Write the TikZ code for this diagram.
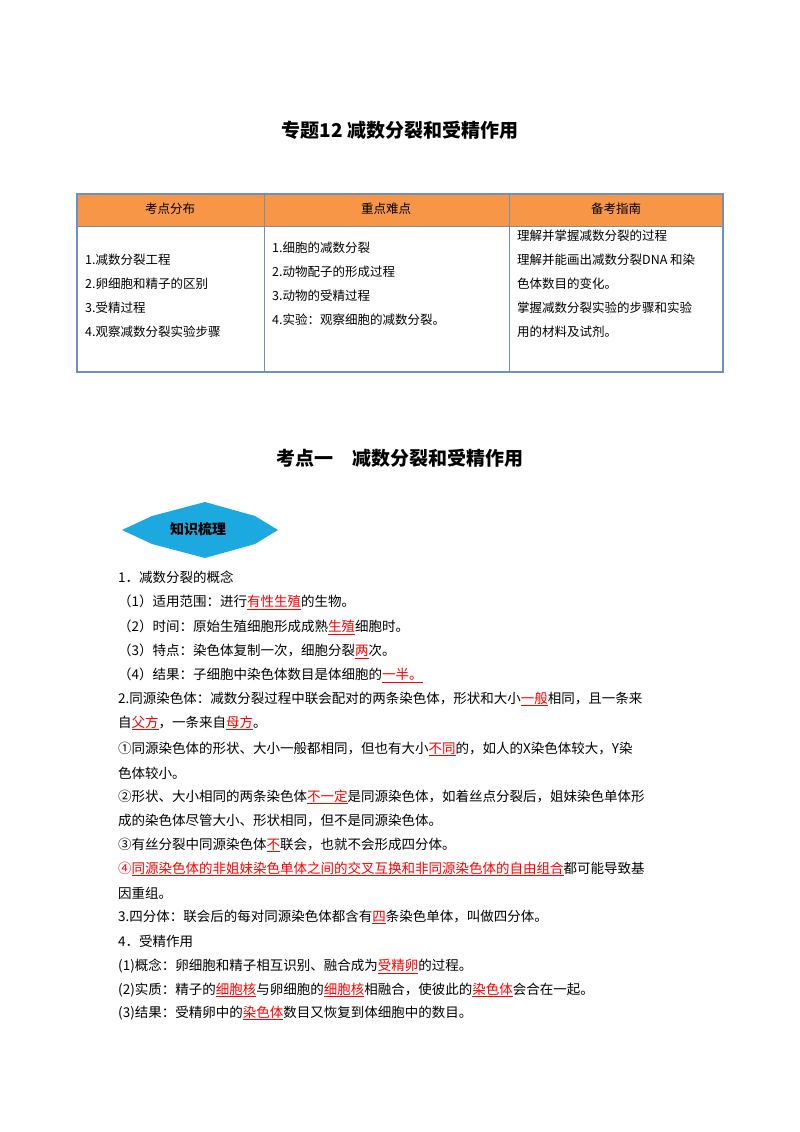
\documentclass[tikz,border=0pt]{standalone}
\usepackage{fontspec}
\setmainfont{Noto Sans CJK SC}
\usepackage{xcolor}
\definecolor{hdr}{HTML}{F79646}
\definecolor{tbl}{HTML}{6F8FC0}
\definecolor{badge}{HTML}{1BA9E0}
\newcommand{\rdu}[1]{\textcolor{red}{\underline{#1}}}
\begin{document}
\begin{tikzpicture}[x=1pt,y=-1pt,
 body/.style={anchor=west,inner sep=0pt,font=\fontsize{13.5}{16}\selectfont},
 cell/.style={anchor=west,inner sep=0pt,font=\fontsize{12.5}{15}\selectfont},
 head/.style={anchor=center,inner sep=0pt,font=\fontsize{12.5}{15}\selectfont},
 ttl/.style={anchor=center,inner sep=0pt,font=\fontsize{19}{22}\selectfont\bfseries}]
\useasboundingbox (0,0) rectangle (800,1132);
\fill[white] (0,0) rectangle (800,1132);
\node[ttl] (t1) at (400,130) {专题12 减数分裂和受精作用};
% table
\fill[hdr] (77,194) rectangle (723,226);
\draw[tbl,line width=1.2pt] (77,194) rectangle (723,372);
\draw[tbl,line width=1pt] (77,226) -- (723,226) (264,194) -- (264,372) (509,194) -- (509,372);
\node[head] (h1) at (170,209) {考点分布};
\node[head] (h2) at (386,209) {重点难点};
\node[head] (h3) at (616,209) {备考指南};
\node[cell] (a1) at (85,260) {1.减数分裂工程};
\node[cell] (a2) at (85,284) {2.卵细胞和精子的区别};
\node[cell] (a3) at (85,308) {3.受精过程};
\node[cell] (a4) at (85,332) {4.观察减数分裂实验步骤};
\node[cell] (b1) at (272,248) {1.细胞的减数分裂};
\node[cell] (b2) at (272,272) {2.动物配子的形成过程};
\node[cell] (b3) at (272,296) {3.动物的受精过程};
\node[cell] (b4) at (272,320) {4.实验：观察细胞的减数分裂。};
\node[cell] (c1) at (517,236) {理解并掌握减数分裂的过程};
\node[cell] (c2) at (517,260) {理解并能画出减数分裂DNA 和染};
\node[cell] (c3) at (517,284) {色体数目的变化。};
\node[cell] (c4) at (517,308) {掌握减数分裂实验的步骤和实验};
\node[cell] (c5) at (517,332) {用的材料及试剂。};
\node[ttl] (t2) at (400,458) {考点一　减数分裂和受精作用};
% badge
\fill[badge] (122,530) -- (152,516) -- (205,502) -- (255,516) -- (278,530) -- (255,544) -- (205,558) -- (152,544) -- cycle;
\node[anchor=center,inner sep=0pt,font=\fontsize{14}{16}\selectfont\bfseries] (bd) at (198,529) {知识梳理};
% body
\node[body] (l1) at (118,577) {1．减数分裂的概念};
\node[body] (l2) at (118,602) {（1）适用范围：进行\rdu{有性生殖}的生物。};
\node[body] (l3) at (118,627) {（2）时间：原始生殖细胞形成成熟\rdu{生殖}细胞时。};
\node[body] (l4) at (118,651) {（3）特点：染色体复制一次，细胞分裂\rdu{两}次。};
\node[body] (l5) at (118,675) {（4）结果：子细胞中染色体数目是体细胞的\rdu{一半。}};
\node[body] (l6) at (118,699) {2.同源染色体：减数分裂过程中联会配对的两条染色体，形状和大小\rdu{一般}相同，且一条来};
\node[body] (l7) at (118,723) {自\rdu{父方}，一条来自\rdu{母方}。};
\node[body] (l8) at (118,749) {①同源染色体的形状、大小一般都相同，但也有大小\rdu{不同}的，如人的X染色体较大，Y染};
\node[body] (l9) at (118,773) {色体较小。};
\node[body] (l10) at (118,797) {②形状、大小相同的两条染色体\rdu{不一定}是同源染色体，如着丝点分裂后，姐妹染色单体形};
\node[body] (l11) at (118,821) {成的染色体尽管大小、形状相同，但不是同源染色体。};
\node[body] (l12) at (118,845) {③有丝分裂中同源染色体\rdu{不}联会，也就不会形成四分体。};
\node[body] (l13) at (118,869) {\textcolor{red}{④}\rdu{同源染色体的非姐妹染色单体之间的交叉互换和非同源染色体的自由组合}都可能导致基};
\node[body] (l14) at (118,893) {因重组。};
\node[body] (l15) at (118,917) {3.四分体：联会后的每对同源染色体都含有\rdu{四}条染色单体，叫做四分体。};
\node[body] (l16) at (118,941) {4．受精作用};
\node[body] (l17) at (118,966) {(1)概念：卵细胞和精子相互识别、融合成为\rdu{受精卵}的过程。};
\node[body] (l18) at (118,990) {(2)实质：精子的\rdu{细胞核}与卵细胞的\rdu{细胞核}相融合，使彼此的\rdu{染色体}会合在一起。};
\node[body] (l19) at (118,1013) {(3)结果：受精卵中的\rdu{染色体}数目又恢复到体细胞中的数目。};
\end{tikzpicture}
\end{document}
